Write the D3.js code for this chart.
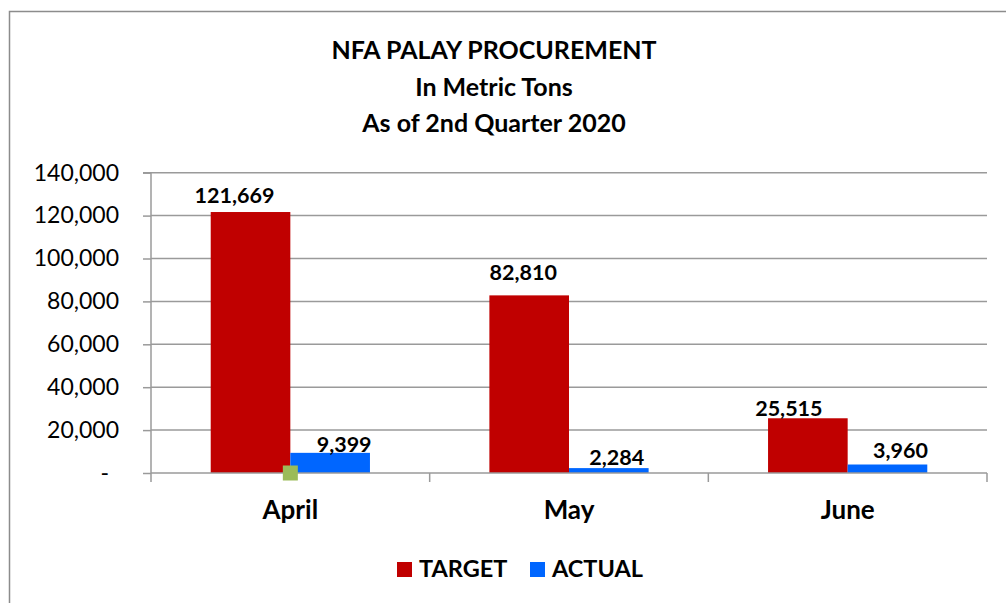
<!DOCTYPE html>
<html>
<head>
<meta charset="utf-8">
<script src="https://cdn.jsdelivr.net/npm/d3@7"></script>
<style>
  body { margin: 0; background: #fff; }
  #chart { width: 1006px; height: 603px; }
</style>
</head>
<body>
<div id="chart"></div>
<script>
// Chart values
const months = ["April", "May", "June"];
const seriesNames = ["TARGET", "ACTUAL"];
const target = [121669, 82810, 25515];
const actual = [9399, 2284, 3960];
const yTicks = [0, 20000, 40000, 60000, 80000, 100000, 120000, 140000];
const titleLines = ["NFA PALAY PROCUREMENT", "In Metric Tons", "As of 2nd Quarter 2020"];

const colors = ["#C00000", "#0066FF"];
const fontFam = "Lato, 'Open Sans', sans-serif";

// hand placed data labels in the original, [dx, dy] from bar top centre
const labelNudge = [
    [[-16, -9], [-6, -15], [-19, -2]],
    [[14, -1], [8, -3], [13, -7]]
];

function draw_bar_chart(chartID) {
    const width = 1006, height = 603;
    const plot = {left: 151, right: 987, top: 172.7, bottom: 473};

    d3.select(chartID).html("");
    const svg = d3.select(chartID)
        .append("svg")
        .attr("width", width)
        .attr("height", height)
        .style("font-family", fontFam);

    // outer chart frame (runs off the right and bottom of the picture)
    svg.append("rect")
        .attr("x", 9.5).attr("y", 11.5)
        .attr("width", 1010).attr("height", 610)
        .attr("fill", "white")
        .attr("stroke", "#8c8c8c")
        .attr("stroke-width", 1.5);

    // title
    svg.append("g").selectAll("text")
        .data(titleLines)
        .enter()
        .append("text")
        .attr("x", 494)
        .attr("y", (d, i) => 59 + i * 36.5)
        .attr("text-anchor", "middle")
        .style("font-size", "25px")
        .style("font-weight", "bold")
        .text(d => d);

    const x = d3.scaleBand()
        .domain(months)
        .range([plot.left, plot.right])
        .padding(0);

    const y = d3.scaleLinear()
        .domain([0, 140000])
        .range([plot.bottom, plot.top]);

    // gap width 75% like the spreadsheet chart
    const groupW = x.bandwidth() / 1.75;
    const barW = groupW / 2;
    const x0 = m => x(m) + (x.bandwidth() - groupW) / 2;

    // gridlines
    svg.append("g").selectAll("line")
        .data(yTicks.filter(d => d > 0))
        .enter()
        .append("line")
        .attr("x1", plot.left).attr("x2", plot.right)
        .attr("y1", d => y(d)).attr("y2", d => y(d))
        .attr("stroke", "#9a9a9a")
        .attr("stroke-width", 1.5);

    // y axis
    const yAxis = svg.append("g")
        .attr("transform", `translate(${plot.left},0)`)
        .call(d3.axisLeft(y)
            .tickValues(yTicks)
            .tickSize(8)
            .tickPadding(24)
            .tickFormat(d => d === 0 ? "-" : d3.format(",")(d)));
    yAxis.select(".domain").attr("stroke", "#9a9a9a").attr("stroke-width", 1.5)
        .attr("d", `M-8,${plot.top}H0V${plot.bottom + 9}`);
    yAxis.selectAll(".tick line").attr("stroke", "#9a9a9a").attr("stroke-width", 1.5);
    yAxis.selectAll(".tick text")
        .attr("fill", "#000")
        .attr("dx", d => d === 0 ? -10 : 0)
        .style("font-size", "23px")
        .style("font-family", fontFam);

    // bars
    const series = [target, actual];
    series.forEach((vals, s) => {
        svg.append("g").selectAll("rect")
            .data(vals)
            .enter()
            .append("rect")
            .attr("x", (d, i) => x0(months[i]) + s * barW)
            .attr("y", d => y(d))
            .attr("width", barW)
            .attr("height", d => y(0) - y(d))
            .attr("fill", colors[s]);
    });

    // x axis
    const xAxis = svg.append("g")
        .attr("transform", `translate(0,${plot.bottom})`)
        .call(d3.axisBottom(x).tickSize(0).tickPadding(28));
    xAxis.select(".domain").attr("stroke", "#9a9a9a").attr("stroke-width", 1.5)
        .attr("d", `M${plot.left},0H${plot.right}`);
    xAxis.selectAll(".tick text")
        .attr("fill", "#000")
        .style("font-size", "26px")
        .style("font-weight", "bold")
        .style("font-family", fontFam);
    // category boundary ticks
    xAxis.selectAll(".bound")
        .data(months.map(m => x(m) + x.bandwidth()))
        .enter()
        .append("line")
        .attr("class", "bound")
        .attr("x1", d => d).attr("x2", d => d)
        .attr("y1", 0).attr("y2", 9)
        .attr("stroke", "#9a9a9a")
        .attr("stroke-width", 1.5);

    // stray marker sitting at the April baseline
    svg.append("rect")
        .attr("x", x(months[0]) + x.bandwidth() / 2 - 7.5)
        .attr("y", y(0) - 7.5)
        .attr("width", 15).attr("height", 15)
        .attr("fill", "#9BBB59");

    // data labels
    series.forEach((vals, s) => {
        svg.append("g").selectAll("text")
            .data(vals)
            .enter()
            .append("text")
            .attr("x", (d, i) => x0(months[i]) + s * barW + barW / 2 + labelNudge[s][i][0])
            .attr("y", (d, i) => y(d) + labelNudge[s][i][1])
            .attr("text-anchor", "middle")
            .style("font-size", "21.5px")
            .style("font-weight", "bold")
            .text(d => d3.format(",")(d));
    });

    // legend
    const legendX = [397, 530];
    const legend = svg.selectAll(".legend")
        .data(seriesNames)
        .enter()
        .append("g")
        .attr("class", "legend")
        .attr("transform", (d, i) => `translate(${legendX[i]}, 562)`);

    legend.append("rect")
        .attr("width", 15)
        .attr("height", 15)
        .style("fill", (d, i) => colors[i]);

    legend.append("text")
        .attr("x", 22)
        .attr("y", 15)
        .style("font-size", "23.5px")
        .style("font-weight", "bold")
        .text(d => d);
}

draw_bar_chart("#chart");
</script>
</body>
</html>
